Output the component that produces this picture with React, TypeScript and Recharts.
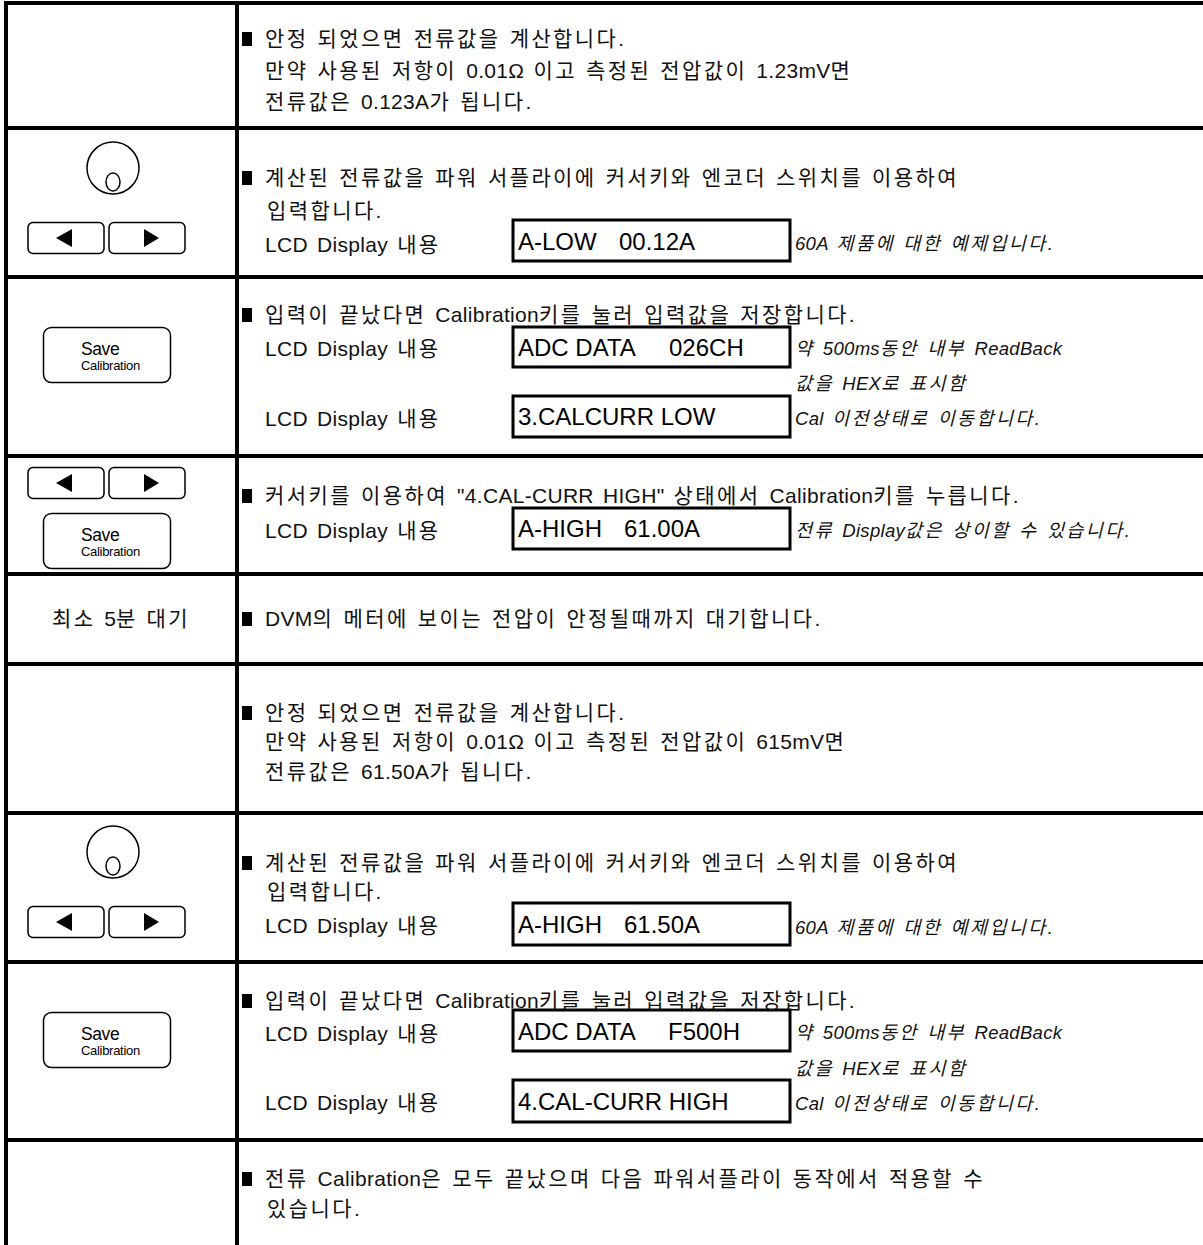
import { ComposedChart, XAxis, YAxis, Scatter, ReferenceLine, ReferenceArea } from "recharts";

const W = 1203;
const H = 1245;
const LATIN = "'Liberation Sans', Arial, 'Noto Sans CJK KR', sans-serif";

// table grid, in page pixels (the chart's own units)
const rowEdges = [3, 128, 277, 456, 574, 664, 813, 962, 1140];
const columnEdges = [6, 237];

const bulletLines = [
  { x: 265, y: 38, text: "안정 되었으면 전류값을 계산합니다." },
  { x: 265, y: 177, text: "계산된 전류값을 파워 서플라이에 커서키와 엔코더 스위치를 이용하여" },
  { x: 265, y: 314, text: "입력이 끝났다면 Calibration키를 눌러 입력값을 저장합니다." },
  { x: 265, y: 495, text: "커서키를 이용하여 \"4.CAL-CURR HIGH\" 상태에서 Calibration키를 누릅니다." },
  { x: 265, y: 618, text: "DVM의 메터에 보이는 전압이 안정될때까지 대기합니다." },
  { x: 265, y: 712, text: "안정 되었으면 전류값을 계산합니다." },
  { x: 265, y: 862, text: "계산된 전류값을 파워 서플라이에 커서키와 엔코더 스위치를 이용하여" },
  { x: 265, y: 1000, text: "입력이 끝났다면 Calibration키를 눌러 입력값을 저장합니다." },
  { x: 265, y: 1178, text: "전류 Calibration은 모두 끝났으며 다음 파워서플라이 동작에서 적용할 수" },
];

const bodyLines = [
  { x: 265, y: 70, text: "만약 사용된 저항이 0.01Ω 이고 측정된 전압값이 1.23mV면" },
  { x: 265, y: 101, text: "전류값은 0.123A가 됩니다." },
  { x: 267, y: 210, text: "입력합니다." },
  { x: 265, y: 244, text: "LCD Display 내용" },
  { x: 265, y: 348, text: "LCD Display 내용" },
  { x: 265, y: 418, text: "LCD Display 내용" },
  { x: 265, y: 530, text: "LCD Display 내용" },
  { x: 265, y: 741, text: "만약 사용된 저항이 0.01Ω 이고 측정된 전압값이 615mV면" },
  { x: 265, y: 771, text: "전류값은 61.50A가 됩니다." },
  { x: 267, y: 891, text: "입력합니다." },
  { x: 265, y: 925, text: "LCD Display 내용" },
  { x: 265, y: 1033, text: "LCD Display 내용" },
  { x: 265, y: 1102, text: "LCD Display 내용" },
  { x: 267, y: 1208, text: "있습니다." },
];

const noteLines = [
  { x: 795, y: 243, text: "60A 제품에 대한 예제입니다." },
  { x: 795, y: 348, text: "약 500ms동안 내부 ReadBack" },
  { x: 795, y: 383, text: "값을 HEX로 표시함" },
  { x: 795, y: 418, text: "Cal 이전상태로 이동합니다." },
  { x: 795, y: 530, text: "전류 Display값은 상이할 수 있습니다." },
  { x: 795, y: 927, text: "60A 제품에 대한 예제입니다." },
  { x: 795, y: 1032, text: "약 500ms동안 내부 ReadBack" },
  { x: 795, y: 1068, text: "값을 HEX로 표시함" },
  { x: 795, y: 1103, text: "Cal 이전상태로 이동합니다." },
];

const lcdBoxes = [
  { x1: 513, x2: 790, y1: 220, y2: 261 },
  { x1: 513, x2: 790, y1: 327, y2: 367 },
  { x1: 513, x2: 790, y1: 396, y2: 437 },
  { x1: 513, x2: 790, y1: 508, y2: 549 },
  { x1: 513, x2: 790, y1: 903, y2: 945 },
  { x1: 513, x2: 790, y1: 1010, y2: 1051 },
  { x1: 513, x2: 790, y1: 1080, y2: 1122 },
];

const lcdTexts = [
  { x: 518, y: 241, text: "A-LOW" },
  { x: 619, y: 241, text: "00.12A" },
  { x: 518, y: 347, text: "ADC DATA" },
  { x: 669, y: 347, text: "026CH" },
  { x: 518, y: 416, text: "3.CALCURR LOW" },
  { x: 518, y: 528, text: "A-HIGH" },
  { x: 624, y: 528, text: "61.00A" },
  { x: 518, y: 924, text: "A-HIGH" },
  { x: 624, y: 924, text: "61.50A" },
  { x: 518, y: 1031, text: "ADC DATA" },
  { x: 668, y: 1031, text: "F500H" },
  { x: 518, y: 1101, text: "4.CAL-CURR HIGH" },
];

const sideLabels = [{ x: 121, y: 618, text: "최소 5분 대기" }];

const knobs = [
  { x: 113, y: 168 },
  { x: 113, y: 852 },
];
const arrowKeys = [
  { x: 107, y: 238 },
  { x: 107, y: 483 },
  { x: 107, y: 922 },
];
const saveKeys = [
  { x: 107, y: 355 },
  { x: 107, y: 541 },
  { x: 107, y: 1040 },
];

// hangul in the original is set wider than the latin, so give those runs extra tracking
const Runs = ({ text, hangulSpacing }: { text: string; hangulSpacing: number }) => (
  <>
    {text.split(/([\uAC00-\uD7A3]+)/).map((part, i) =>
      /[\uAC00-\uD7A3]/.test(part) ? (
        <tspan key={i} style={{ letterSpacing: hangulSpacing }}>
          {part}
        </tspan>
      ) : (
        <tspan key={i}>{part}</tspan>
      )
    )}
  </>
);

// eslint-disable-next-line @typescript-eslint/no-explicit-any
const BodyText = ({ cx, cy, payload }: any) => (
  <text
    x={cx}
    y={cy + 7.5}
    fontFamily={LATIN}
    fontSize={21}
    fill="#111"
    style={{ letterSpacing: 0.3, wordSpacing: 3 }}
  >
    <Runs text={payload.text} hangulSpacing={2.4} />
  </text>
);

// eslint-disable-next-line @typescript-eslint/no-explicit-any
const BulletText = (props: any) => (
  <g>
    <rect x={props.cx - 23} y={props.cy - 6} width={10} height={14} fill="#000" />
    <BodyText {...props} />
  </g>
);

// eslint-disable-next-line @typescript-eslint/no-explicit-any
const NoteText = ({ cx, cy, payload }: any) => (
  <text
    x={cx}
    y={cy + 6.8}
    fontFamily={LATIN}
    fontSize={18.5}
    fontStyle="italic"
    fill="#111"
    style={{ letterSpacing: 0.3, wordSpacing: 3 }}
  >
    <Runs text={payload.text} hangulSpacing={2.4} />
  </text>
);

// eslint-disable-next-line @typescript-eslint/no-explicit-any
const LcdText = ({ cx, cy, payload }: any) => (
  <text x={cx} y={cy + 8.6} fontFamily={LATIN} fontSize={24} fill="#000">
    {payload.text}
  </text>
);

// eslint-disable-next-line @typescript-eslint/no-explicit-any
const SideText = ({ cx, cy, payload }: any) => (
  <text
    x={cx}
    y={cy + 7.5}
    textAnchor="middle"
    fontFamily={LATIN}
    fontSize={21}
    fill="#111"
    style={{ wordSpacing: 3 }}
  >
    <Runs text={payload.text} hangulSpacing={2.4} />
  </text>
);

// eslint-disable-next-line @typescript-eslint/no-explicit-any
const Knob = ({ cx, cy }: any) => (
  <g fill="#fff" stroke="#000" strokeWidth={1.5}>
    <circle cx={cx} cy={cy} r={26} />
    <ellipse cx={cx} cy={cy + 14} rx={7} ry={9} />
  </g>
);

// eslint-disable-next-line @typescript-eslint/no-explicit-any
const ArrowKeys = ({ cx, cy }: any) => (
  <g>
    <rect x={cx - 79} y={cy - 15.5} width={76} height={31} rx={5} fill="#fff" stroke="#000" strokeWidth={1.5} />
    <rect x={cx + 2} y={cy - 15.5} width={76} height={31} rx={5} fill="#fff" stroke="#000" strokeWidth={1.5} />
    <polygon points={`${cx - 51},${cy} ${cx - 35},${cy - 9} ${cx - 35},${cy + 9}`} fill="#000" />
    <polygon points={`${cx + 52},${cy} ${cx + 37},${cy - 9} ${cx + 37},${cy + 9}`} fill="#000" />
  </g>
);

// eslint-disable-next-line @typescript-eslint/no-explicit-any
const SaveKey = ({ cx, cy }: any) => (
  <g>
    <rect x={cx - 63.5} y={cy - 27.5} width={127} height={55} rx={8} fill="#fff" stroke="#000" strokeWidth={1.5} />
    <text x={cx - 26} y={cy - 0.5} fontFamily={LATIN} fontSize={17.5} fill="#000" style={{ letterSpacing: -0.4 }}>
      Save
    </text>
    <text x={cx - 26} y={cy + 14.5} fontFamily={LATIN} fontSize={13} fill="#000" style={{ letterSpacing: -0.3 }}>
      Calibration
    </text>
  </g>
);

export default function App() {
  return (
    <div style={{ width: W, height: H, background: "#fff" }}>
      <style>{"body{margin:0;background:#fff}"}</style>
      <ComposedChart width={W} height={H} margin={{ top: 0, right: 0, bottom: 0, left: 0 }}>
        <XAxis type="number" dataKey="x" domain={[0, W]} hide allowDataOverflow />
        <YAxis type="number" dataKey="y" domain={[0, H]} reversed hide allowDataOverflow />

        {rowEdges.map((y) => (
          <ReferenceLine
            key={`row-${y}`}
            segment={[
              { x: columnEdges[0] - 2, y },
              { x: W, y },
            ]}
            stroke="#000"
            strokeWidth={4}
          />
        ))}
        {columnEdges.map((x) => (
          <ReferenceLine
            key={`col-${x}`}
            segment={[
              { x, y: rowEdges[0] - 2 },
              { x, y: H },
            ]}
            stroke="#000"
            strokeWidth={4}
          />
        ))}

        {lcdBoxes.map((b, i) => (
          <ReferenceArea
            key={`lcd-${i}`}
            x1={b.x1}
            x2={b.x2}
            y1={b.y1}
            y2={b.y2}
            fill="#fff"
            fillOpacity={1}
            stroke="#000"
            strokeWidth={3}
            strokeOpacity={1}
          />
        ))}

        <Scatter data={bulletLines} shape={BulletText} isAnimationActive={false} />
        <Scatter data={bodyLines} shape={BodyText} isAnimationActive={false} />
        <Scatter data={noteLines} shape={NoteText} isAnimationActive={false} />
        <Scatter data={lcdTexts} shape={LcdText} isAnimationActive={false} />
        <Scatter data={sideLabels} shape={SideText} isAnimationActive={false} />
        <Scatter data={knobs} shape={Knob} isAnimationActive={false} />
        <Scatter data={arrowKeys} shape={ArrowKeys} isAnimationActive={false} />
        <Scatter data={saveKeys} shape={SaveKey} isAnimationActive={false} />
      </ComposedChart>
    </div>
  );
}
